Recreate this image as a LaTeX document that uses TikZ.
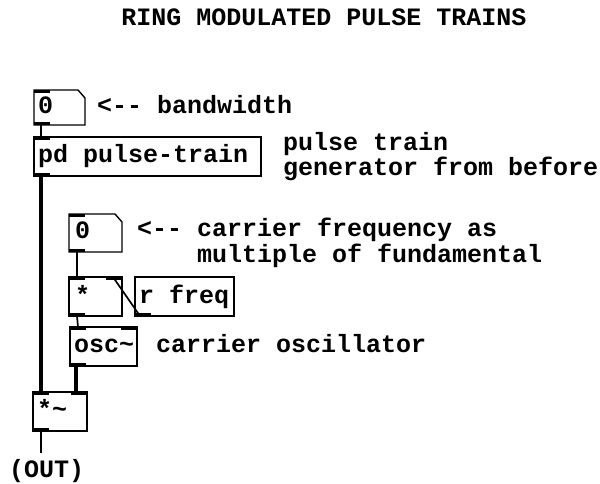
\documentclass[tikz,border=0pt]{standalone}
\usepackage{fontspec}
\newfontfamily\pdfont{Liberation Mono}
\begin{document}
\begin{tikzpicture}[x=1pt,y=-1pt,
  box/.style={draw,line width=1.4pt,fill=white,inner sep=0pt,outer sep=0pt,anchor=north west},
  nbox/.style={inner sep=0pt,outer sep=0pt,anchor=north west},
  txt/.style={inner sep=0pt,anchor=base west,font=\pdfont\fontsize{25}{28}\selectfont\bfseries},
  ctl/.style={line width=1.7pt},
  sig/.style={line width=4.5pt}]
\useasboundingbox (0,0) rectangle (600,483);
\node[txt,anchor=base] (title) at (324,25) {RING MODULATED PULSE TRAINS};

% boxes
\node[nbox,minimum width=51pt,minimum height=35pt] (num1) at (34,90) {};
\node[box,minimum width=227pt,minimum height=39pt] (pd) at (34,137) {};
\node[nbox,minimum width=53pt,minimum height=38pt] (num2) at (69,214) {};
\node[box,minimum width=53pt,minimum height=39pt] (mul) at (69,277) {};
\node[box,minimum width=99pt,minimum height=39pt] (rfreq) at (135,277) {};
\node[box,minimum width=67pt,minimum height=39pt] (osc) at (70,327) {};
\node[box,minimum width=54pt,minimum height=39pt] (smul) at (33,392) {};
\coordinate (outend) at (41,453);

% connections
\draw[ctl] ([xshift=7pt]num1.south west) -- ([xshift=7pt]pd.north west);
\draw[sig] ([xshift=7pt]pd.south west) -- ([xshift=8pt]smul.north west);
\draw[ctl] ([xshift=8pt]num2.south west) -- ([xshift=8pt]mul.north west);
\draw[ctl] ([xshift=5pt]rfreq.south west) -- ([xshift=-9pt]mul.north east);
\draw[ctl] ([xshift=8pt]mul.south west) -- ([xshift=8pt]osc.north west);
\draw[sig] ([xshift=6pt]osc.south west) -- ([xshift=-11pt]smul.north east);
\draw[ctl] ([xshift=8pt]smul.south west) -- (outend);

% number boxes outline
\foreach \n in {num1,num2}{
  \draw[line width=1.4pt,fill=white] (\n.north west) -- ([xshift=-7pt]\n.north east) -- ([yshift=-8pt]\n.north east) -- (\n.south east) -- (\n.south west) -- cycle;
}
% redraw ordinary boxes on top of lines
\foreach \n in {pd,mul,rfreq,osc,smul}{
  \draw[line width=1.4pt] (\n.north west) rectangle (\n.south east);
}

% inlets / outlets
\foreach \n in {num1,pd,num2,mul,osc,smul}{
  \fill (\n.north west) rectangle ++(16,3);
}
\foreach \n in {num1,pd,num2,mul,rfreq,osc,smul}{
  \fill (\n.south west) rectangle ++(16,-3);
}
\foreach \n in {mul,osc,smul}{
  \fill (\n.north east) rectangle ++(-16,3);
}

% texts
\node[txt] (t0a) at (38,113) {0};
\node[txt] (c1) at (97,113) {<-- bandwidth};
\node[txt] (tpd) at (38,162) {pd pulse-train};
\node[txt] (c2a) at (283,150) {pulse train};
\node[txt] (c2b) at (283,175) {generator from before};
\node[txt] (t0b) at (75,238) {0};
\node[txt] (c3a) at (137,236) {<-- carrier frequency as};
\node[txt] (c3b) at (197,262) {multiple of fundamental};
\node[txt] (tmul) at (75,303) {*};
\node[txt] (tr) at (139,303) {r freq};
\node[txt] (tosc) at (74,352) {osc\char`\~};
\node[txt] (c4) at (156,352) {carrier oscillator};
\node[txt] (tsm) at (37,417) {*\char`\~};
\node[txt] (out) at (9,477) {(OUT)};
\end{tikzpicture}
\end{document}
